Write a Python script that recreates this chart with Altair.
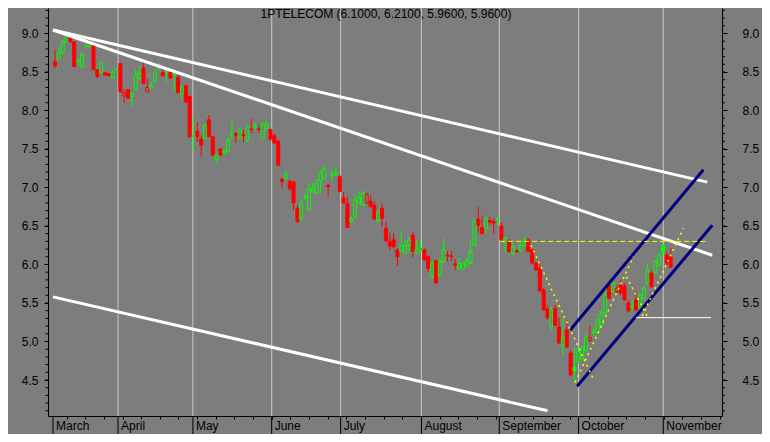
import numpy as np
import pandas as pd
import altair as alt

TITLE = "1PTELECOM (6.1000, 6.2100, 5.9600, 5.9600)"

opens = [
    8.63, 8.67, 8.75, 8.89, 8.95, 8.89, 8.63, 8.57, 8.83, 8.83,
    8.85, 8.53, 8.49, 8.49, 8.48, 8.42, 8.52, 8.61, 8.19, 8.27,
    8.18, 8.27, 8.41, 8.55, 8.24, 8.29, 8.37, 8.54, 8.49, 8.50,
    8.50, 8.46, 8.43, 8.22, 8.32, 8.18, 7.66, 7.73, 7.63, 7.63,
    7.88, 7.66, 7.36, 7.50, 7.45, 7.47, 7.67, 7.70, 7.64, 7.69,
    7.61, 7.76, 7.79, 7.76, 7.64, 7.77, 7.75, 7.67, 7.60, 7.11,
    7.12, 7.08, 7.07, 6.73, 6.60, 6.87, 6.71, 6.95, 6.93, 7.08,
    7.11, 7.03, 7.16, 7.16, 7.14, 6.86, 6.79, 6.56, 6.63, 6.80,
    6.77, 6.80, 6.82, 6.77, 6.57, 6.73, 6.47, 6.30, 6.32, 6.19,
    6.17, 6.14, 6.25, 6.38, 6.15, 6.18, 6.19, 6.10, 5.84, 6.05,
    5.86, 6.04, 6.12, 6.11, 6.01, 5.95, 5.94, 5.98, 6.02, 6.25,
    6.59, 6.48, 6.47, 6.57, 6.56, 6.59, 6.50, 6.28, 6.30, 6.14,
    6.18, 6.18, 6.25, 6.32, 6.19, 6.02, 5.95, 5.67, 5.42, 5.19,
    5.43, 5.19, 4.95, 5.15, 4.85, 4.67, 4.74, 4.78, 4.89, 5.01,
    5.11, 5.11, 5.21, 5.37, 5.73, 5.65, 5.65, 5.73, 5.72, 5.50,
    5.45, 5.54, 5.43, 5.56, 5.76, 5.89, 5.89, 5.99, 6.25, 6.12, 6.10,
]
highs = [
    8.79, 8.81, 8.92, 8.99, 8.97, 8.90, 8.68, 8.76, 8.86, 8.90,
    8.86, 8.53, 8.63, 8.50, 8.49, 8.53, 8.55, 8.62, 8.27, 8.27,
    8.24, 8.53, 8.57, 8.62, 8.41, 8.37, 8.53, 8.63, 8.55, 8.55,
    8.53, 8.50, 8.46, 8.33, 8.34, 8.20, 7.90, 7.85, 7.68, 7.84,
    7.94, 7.67, 7.44, 7.51, 7.50, 7.64, 7.85, 7.72, 7.77, 7.75,
    7.81, 7.89, 7.84, 7.81, 7.85, 7.86, 7.77, 7.70, 7.62, 7.12,
    7.21, 7.10, 7.08, 6.77, 6.84, 6.92, 7.06, 7.06, 7.11, 7.23,
    7.30, 7.05, 7.25, 7.27, 7.16, 6.94, 6.88, 6.63, 6.90, 6.95,
    6.97, 6.94, 6.89, 6.82, 6.71, 6.79, 6.56, 6.41, 6.41, 6.21,
    6.43, 6.31, 6.36, 6.43, 6.32, 6.32, 6.21, 6.12, 6.06, 6.06,
    6.09, 6.34, 6.17, 6.17, 6.07, 6.09, 6.03, 6.09, 6.32, 6.60,
    6.75, 6.64, 6.63, 6.62, 6.60, 6.62, 6.55, 6.36, 6.33, 6.28,
    6.20, 6.28, 6.36, 6.34, 6.20, 6.03, 6.03, 5.70, 5.47, 5.46,
    5.47, 5.31, 5.31, 5.28, 4.89, 4.93, 4.92, 4.95, 5.11, 5.21,
    5.19, 5.30, 5.41, 5.67, 5.78, 5.80, 5.73, 5.80, 5.76, 5.54,
    5.54, 5.65, 5.63, 5.72, 6.01, 5.93, 6.06, 6.16, 6.25, 6.17, 6.21,
]
lows = [
    8.55, 8.66, 8.73, 8.89, 8.89, 8.57, 8.57, 8.57, 8.81, 8.82,
    8.53, 8.42, 8.49, 8.45, 8.45, 8.41, 8.51, 8.24, 8.10, 8.16,
    8.06, 8.27, 8.40, 8.34, 8.24, 8.29, 8.37, 8.53, 8.45, 8.36,
    8.41, 8.24, 8.23, 8.15, 8.11, 7.64, 7.49, 7.59, 7.40, 7.62,
    7.66, 7.41, 7.32, 7.41, 7.42, 7.45, 7.64, 7.58, 7.63, 7.59,
    7.59, 7.71, 7.75, 7.71, 7.63, 7.76, 7.60, 7.57, 7.28, 6.99,
    7.10, 6.97, 6.71, 6.54, 6.57, 6.84, 6.70, 6.93, 6.92, 6.93,
    7.10, 6.88, 7.08, 7.15, 6.94, 6.79, 6.47, 6.54, 6.60, 6.79,
    6.76, 6.79, 6.75, 6.58, 6.54, 6.49, 6.29, 6.18, 6.21, 5.98,
    6.15, 6.14, 6.17, 6.09, 6.14, 6.16, 6.05, 5.90, 5.81, 5.75,
    5.84, 6.02, 6.04, 6.04, 5.93, 5.93, 5.93, 5.97, 6.01, 6.24,
    6.41, 6.40, 6.41, 6.51, 6.40, 6.51, 6.30, 6.15, 6.15, 6.12,
    6.15, 6.16, 6.23, 6.16, 6.01, 5.92, 5.64, 5.40, 5.28, 5.15,
    5.20, 4.97, 4.82, 4.92, 4.55, 4.45, 4.72, 4.76, 4.86, 5.00,
    5.07, 5.10, 5.18, 5.34, 5.54, 5.63, 5.63, 5.60, 5.53, 5.38,
    5.40, 5.40, 5.41, 5.54, 5.73, 5.70, 5.88, 5.98, 6.11, 5.99, 5.96,
]
closes = [
    8.58, 8.76, 8.89, 8.97, 8.89, 8.57, 8.64, 8.72, 8.84, 8.88,
    8.53, 8.44, 8.62, 8.46, 8.45, 8.50, 8.54, 8.24, 8.23, 8.16,
    8.22, 8.47, 8.48, 8.35, 8.30, 8.32, 8.49, 8.57, 8.45, 8.54,
    8.42, 8.48, 8.23, 8.31, 8.11, 7.66, 7.68, 7.66, 7.55, 7.81,
    7.66, 7.42, 7.43, 7.42, 7.48, 7.62, 7.71, 7.67, 7.75, 7.67,
    7.79, 7.75, 7.80, 7.75, 7.82, 7.83, 7.63, 7.58, 7.29, 7.08,
    7.16, 6.98, 6.80, 6.56, 6.80, 6.88, 6.98, 6.99, 7.05, 7.19,
    7.24, 7.01, 7.17, 7.20, 6.95, 6.80, 6.48, 6.60, 6.84, 6.87,
    6.93, 6.91, 6.75, 6.59, 6.69, 6.60, 6.31, 6.24, 6.23, 6.10,
    6.24, 6.25, 6.32, 6.17, 6.20, 6.22, 6.06, 5.95, 6.02, 5.76,
    6.04, 6.19, 6.11, 6.10, 5.99, 6.01, 6.02, 6.05, 6.17, 6.56,
    6.51, 6.40, 6.59, 6.55, 6.54, 6.60, 6.32, 6.34, 6.17, 6.23,
    6.17, 6.25, 6.32, 6.17, 6.02, 5.93, 5.66, 5.41, 5.31, 5.41,
    5.21, 4.98, 5.06, 4.93, 4.57, 4.62, 4.87, 4.92, 5.06, 5.05,
    5.13, 5.28, 5.37, 5.60, 5.56, 5.76, 5.69, 5.63, 5.54, 5.40,
    5.46, 5.41, 5.60, 5.69, 5.93, 5.71, 6.04, 6.12, 6.16, 6.02, 5.96,
]

months = ["March", "April", "May", "June", "July", "August",
          "September", "October", "November"]
month_pos = [-0.51, 16.39, 35.84, 56.32, 74.24, 95.24, 115.46, 136.07, 158.08]

# trend lines: (x1, y1, x2, y2) in trading-day index / price
white_x1 = [-0.51, -0.51, -0.51]
white_y1 = [9.045, 9.045, 5.58]
white_x2 = [169.5, 170.8, 128.0]
white_y2 = [7.07, 6.12, 4.10]

navy_x1 = [133.9, 135.7]
navy_y1 = [5.15, 4.42]
navy_x2 = [168.5, 170.8]
navy_y2 = [7.23, 6.51]

support_x1, support_x2, support_y = [151.0], [170.5], [5.31]
resist_x1, resist_x2, resist_y = [115.7], [169.7], [6.30]

zig_x1 = [123.7, 135.2, 148.5, 152.6]
zig_y1 = [6.25, 4.47, 5.84, 5.33]
zig_x2 = [140.0, 150.3, 154.1, 163.3]
zig_y2 = [4.50, 6.10, 5.31, 6.47]

major_y = [4.5, 5.0, 5.5, 6.0, 6.5, 7.0, 7.5, 8.0, 8.5, 9.0]
minor_y = [round(4.1 + 0.1 * k, 1) for k in range(53)]
week_ticks = [round(3.0 + 4.85 * k, 2) for k in range(36)]

BG = "#7d7d7d"
GREEN, RED = "#00ff00", "#ff0000"
FONT = "Liberation Sans"
W, H = 674, 408
XDOM = [-0.512, 172.04]
YDOM = [4.0325, 9.331]

n = len(closes)
df = pd.DataFrame({"i": np.arange(n), "open": opens, "high": highs,
                   "low": lows, "close": closes})
prev = df["close"].shift(1)
df["col"] = np.where(df["close"] >= prev, GREEN, RED)
df["fillc"] = np.where(df["close"] < df["open"], df["col"], BG)

xs = alt.Scale(domain=XDOM, nice=False, zero=False)
ys = alt.Scale(domain=YDOM, nice=False, zero=False)
x_axis = alt.Axis(values=week_ticks, labels=False, tickSize=3, tickColor="black",
                  domainColor="black", grid=False, title=None)


def X(f):
    return alt.X(f, type="quantitative", scale=xs, axis=x_axis)


def Y(f, axis=None):
    return alt.Y(f, type="quantitative", scale=ys, axis=axis)


left_axis = alt.Axis(orient="left", values=major_y, format=".1f", tickSize=4,
                     labelPadding=6, grid=False, title=None, domainColor="black",
                     tickColor="black", labelColor="black", labelFont=FONT,
                     labelFontSize=12)
right_axis = alt.Axis(orient="right", values=major_y, format=".1f", tickSize=5,
                      labelPadding=15, grid=False, title=None, domainColor="black",
                      tickColor="black", labelColor="black", labelFont=FONT,
                      labelFontSize=12)

mdf = pd.DataFrame({"m": months, "pos": month_pos})

grid = alt.Chart(mdf[mdf["pos"] > 0]).mark_rule(color="#c8c8c8", strokeWidth=1).encode(
    x=X("pos"), y=alt.value(0), y2=alt.value(H))

wicks = alt.Chart(df).mark_rule(strokeWidth=1).encode(
    x=X("i"), y=Y("low", left_axis), y2="high",
    color=alt.Color("col:N", scale=None))

bodies = alt.Chart(df).mark_bar(size=3, strokeWidth=1).encode(
    x=X("i"), y=Y("open", right_axis), y2="close",
    fill=alt.Fill("fillc:N", scale=None), stroke=alt.Stroke("col:N", scale=None))


def segs(x1, y1, x2, y2):
    return pd.DataFrame({"x1": x1, "y1": y1, "x2": x2, "y2": y2})


white = alt.Chart(segs(white_x1, white_y1, white_x2, white_y2)).mark_rule(
    color="white", strokeWidth=3).encode(x=X("x1"), y=Y("y1"), x2="x2", y2="y2")

navy = alt.Chart(segs(navy_x1, navy_y1, navy_x2, navy_y2)).mark_rule(
    color="#000080", strokeWidth=3).encode(x=X("x1"), y=Y("y1"), x2="x2", y2="y2")

support = alt.Chart(segs(support_x1, support_y, support_x2, support_y)).mark_rule(
    color="white", strokeWidth=1).encode(x=X("x1"), y=Y("y1"), x2="x2", y2="y2")

resist = alt.Chart(segs(resist_x1, resist_y, resist_x2, resist_y)).mark_rule(
    color="#ffff00", strokeWidth=1, strokeDash=[5, 3]).encode(
    x=X("x1"), y=Y("y1"), x2="x2", y2="y2")

zig = alt.Chart(segs(zig_x1, zig_y1, zig_x2, zig_y2)).mark_rule(
    color="#ffff00", strokeWidth=1.5, strokeDash=[2, 4]).encode(
    x=X("x1"), y=Y("y1"), x2="x2", y2="y2")

mny = pd.DataFrame({"v": minor_y})
minor_l = alt.Chart(mny).mark_rule(color="black", strokeWidth=1).encode(
    y=Y("v"), x=alt.value(0), x2=alt.value(-2.5))
minor_r = alt.Chart(mny).mark_rule(color="black", strokeWidth=1).encode(
    y=Y("v"), x=alt.value(W), x2=alt.value(W + 3))

mticks = alt.Chart(mdf).mark_rule(color="black", strokeWidth=1).encode(
    x=X("pos"), y=alt.value(H), y2=alt.value(H + 18))
mlabels = alt.Chart(mdf).mark_text(align="left", baseline="top", dx=3, font=FONT,
                                   fontSize=12, color="black").encode(
    x=X("pos"), y=alt.value(H + 5), text="m:N")

title = alt.Chart(pd.DataFrame({"t": [TITLE]})).mark_text(
    align="center", baseline="top", font=FONT, fontSize=12, color="black").encode(
    x=alt.value(W / 2 + 1), y=alt.value(1), text="t:N")

chart = alt.layer(
    grid, wicks, bodies, white, navy, support, resist, zig,
    minor_l, minor_r, mticks, mlabels, title,
).resolve_axis(y="independent").properties(
    width=W, height=H, background=BG,
    padding={"left": 40, "top": 0, "right": 40, "bottom": 18},
    autosize=alt.AutoSizeParams(type="none"),
).configure_view(stroke=None)

chart.save("out.html", embed_options={"renderer": "svg", "actions": False})
